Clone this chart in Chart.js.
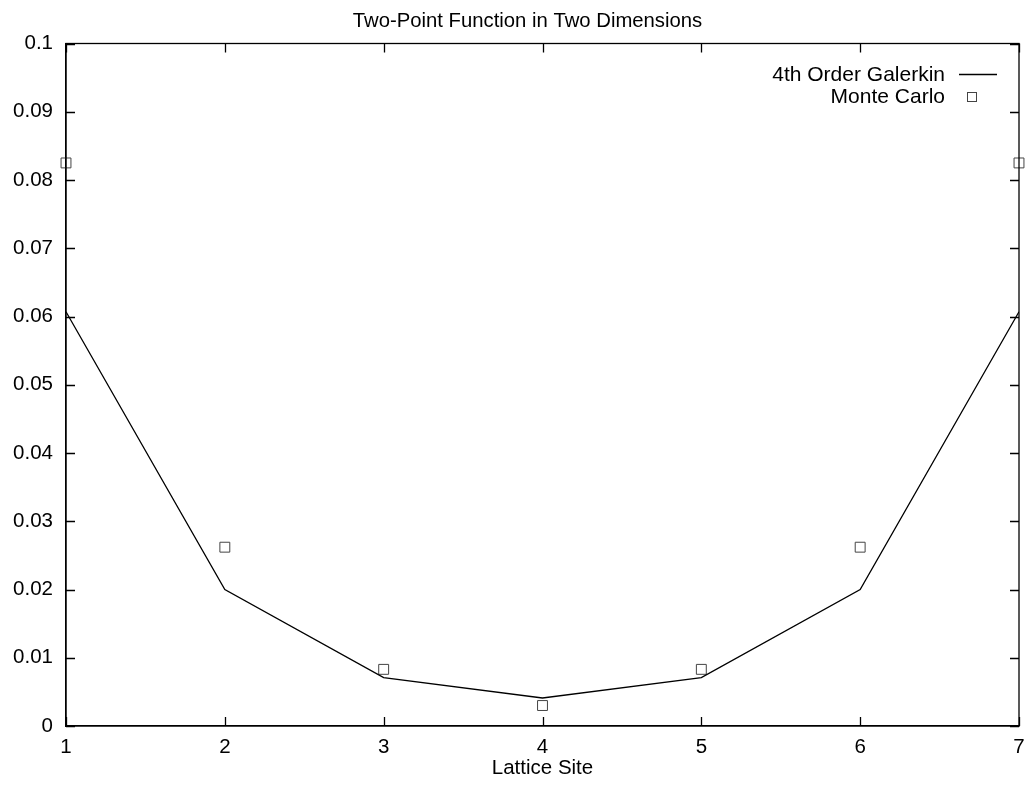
<!DOCTYPE html>
<html>
<head>
<meta charset="utf-8">
<script src="https://cdn.jsdelivr.net/npm/chart.js@4.4.1/dist/chart.umd.min.js"></script>
<style>
  html, body { margin: 0; padding: 0; background: #fff; }
  #wrap { width: 1029px; height: 793px; }
</style>
</head>
<body>
<div id="wrap"><canvas id="c" width="1029" height="793"></canvas></div>
<script>
const titleText = "Two-Point Function in Two Dimensions";
const xAxisTitle = "Lattice Site";
const sites = [1, 2, 3, 4, 5, 6, 7];
const galerkinLabel = "4th Order Galerkin";
const galerkin = [0.0607, 0.0200, 0.0071, 0.0041, 0.0071, 0.0200, 0.0607];
const monteLabel = "Monte Carlo";
const monteCarlo = [0.0825, 0.0262, 0.0083, 0.0030, 0.0083, 0.0262, 0.0825];
const yTicks = [0, 0.01, 0.02, 0.03, 0.04, 0.05, 0.06, 0.07, 0.08, 0.09, 0.1];
const xTicks = [1, 2, 3, 4, 5, 6, 7];

const FONT = "'Liberation Sans', Arial, Helvetica, sans-serif";

const framePlugin = {
  id: 'frame',
  afterDatasetsDraw(chart) {
    const {ctx, chartArea: a, scales: {x, y}} = chart;
    ctx.save();
    ctx.strokeStyle = '#000';
    ctx.lineWidth = 1.3;
    ctx.strokeRect(a.left, a.top, a.right - a.left, a.bottom - a.top);
    const tl = 9;
    ctx.beginPath();
    yTicks.forEach(v => {
      const py = Math.round(y.getPixelForValue(v)) + 0.5;
      ctx.moveTo(a.left, py); ctx.lineTo(a.left + tl, py);
      ctx.moveTo(a.right, py); ctx.lineTo(a.right - tl, py);
    });
    xTicks.forEach(v => {
      const px = Math.round(x.getPixelForValue(v)) + 0.5;
      ctx.moveTo(px, a.bottom); ctx.lineTo(px, a.bottom - tl);
      ctx.moveTo(px, a.top); ctx.lineTo(px, a.top + tl);
    });
    ctx.stroke();

    // title
    ctx.fillStyle = '#000';
    ctx.textBaseline = 'middle';
    ctx.textAlign = 'center';
    ctx.font = "20.3px " + FONT;
    ctx.fillText(titleText, 527.5, 21);

    // legend
    ctx.font = "21px " + FONT;
    ctx.textAlign = 'right';
    const ds = chart.data.datasets;
    ctx.fillText(ds[0].label, 945, 75);
    ctx.fillText(ds[1].label, 945, 97);
    ctx.lineWidth = 1.3;
    ctx.beginPath();
    ctx.moveTo(959, 74.5); ctx.lineTo(997, 74.5);
    ctx.stroke();
    ctx.strokeStyle = '#444';
    ctx.lineWidth = 1;
    ctx.strokeRect(967.5, 92.5, 9, 9);
    ctx.restore();
  }
};

new Chart(document.getElementById('c'), {
  type: 'scatter',
  data: {
    datasets: [
      {
        label: galerkinLabel,
        data: sites.map((s, i) => ({x: s, y: galerkin[i]})),
        showLine: true,
        borderColor: '#000',
        borderWidth: 1.3,
        pointRadius: 0,
        fill: false,
        tension: 0
      },
      {
        label: monteLabel,
        data: sites.map((s, i) => ({x: s, y: monteCarlo[i]})),
        showLine: false,
        pointStyle: 'rect',
        pointRadius: 7,
        pointBorderColor: '#444',
        pointBorderWidth: 1,
        pointBackgroundColor: 'rgba(0,0,0,0)',
        clip: false
      }
    ]
  },
  options: {
    responsive: false,
    animation: false,
    devicePixelRatio: 1,
    layout: { padding: { left: 0, right: 10, top: 43.5, bottom: 0 } },
    plugins: {
      legend: { display: false },
      tooltip: { enabled: false },
      title: { display: false }
    },
    scales: {
      x: {
        type: 'linear',
        min: 1, max: 7,
        afterBuildTicks(scale) { scale.ticks = xTicks.map(v => ({value: v})); },
        afterFit(scale) { scale.height = 67; scale.paddingRight = 0; scale.paddingLeft = 0; },
        ticks: {
          color: '#000',
          padding: 9,
          font: { family: FONT, size: 20.5 },
          callback: v => String(v)
        },
        grid: { display: true, drawOnChartArea: false, drawTicks: false },
        border: { display: true, color: '#000', width: 1.3 },
        title: {
          display: true,
          text: xAxisTitle,
          color: '#000',
          font: { family: FONT, size: 20.5, lineHeight: 1.2 },
          padding: { top: 0, bottom: 12 }
        }
      },
      y: {
        type: 'linear',
        min: 0, max: 0.1,
        afterBuildTicks(scale) { scale.ticks = yTicks.map(v => ({value: v})); },
        afterFit(scale) { scale.width = 66; scale.paddingTop = 0; scale.paddingBottom = 0; },
        ticks: {
          color: '#000',
          padding: 13,
          font: { family: FONT, size: 20.5 },
          callback: v => String(Math.round(v * 100) / 100)
        },
        grid: { display: true, drawOnChartArea: false, drawTicks: false },
        border: { display: true, color: '#000', width: 1.3 }
      }
    }
  },
  plugins: [framePlugin]
});
</script>
</body>
</html>
